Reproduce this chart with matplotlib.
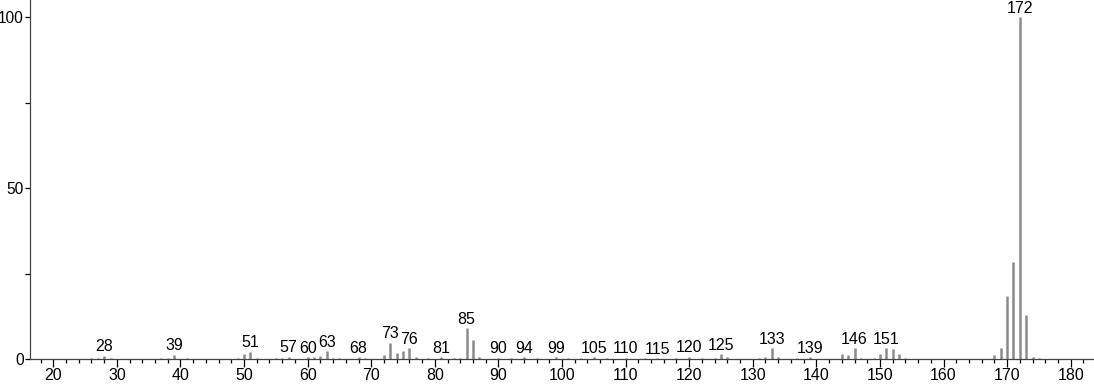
import matplotlib
matplotlib.use("Agg")
import matplotlib.pyplot as plt
from matplotlib.ticker import MultipleLocator

plt.rcParams['font.family'] = ['Liberation Sans', 'DejaVu Sans']

mz = [26, 27, 28, 29, 37, 38, 39, 41, 49, 50, 51, 52, 55, 56, 57, 60, 61, 62, 63, 64, 65,
      68, 69, 72, 73, 74, 75, 76, 77, 79, 81, 83, 84, 85, 86, 87, 90, 92, 94, 96, 99, 101,
      103, 105, 107, 110, 113, 115, 118, 120, 122, 124, 125, 126, 131, 132, 133, 134, 137, 139,
      144, 145, 146, 147, 149, 150, 151, 152, 153, 154, 168, 169, 170, 171, 172, 173, 174, 175]
intensity = [0.3, 0.5, 1.0, 0.3, 0.3, 0.5, 1.3, 0.3, 0.4, 1.5, 2.2, 0.5, 0.3, 0.3, 0.8, 0.7, 0.8, 1.0, 2.3, 0.5, 0.4,
             0.6, 0.3, 1.2, 4.8, 1.8, 2.3, 3.2, 0.6, 0.4, 0.7, 0.4, 0.5, 9.1, 5.6, 0.8, 0.5, 0.4, 0.6, 0.4, 0.6, 0.3,
             0.4, 0.6, 0.4, 0.5, 0.3, 0.4, 0.3, 0.8, 0.4, 0.5, 1.5, 0.6, 0.5, 0.6, 3.2, 0.8, 0.4, 0.6,
             1.5, 1.2, 3.2, 0.5, 0.4, 1.5, 3.2, 3.0, 1.5, 0.5, 1.2, 3.2, 18.5, 28.4, 100.0, 12.9, 0.7, 0.3]
labeled = [28, 39, 51, 57, 60, 63, 68, 73, 76, 81, 85, 90, 94, 99, 105, 110, 115, 120, 125,
           133, 139, 146, 151, 172]
xticks_major = [20, 30, 40, 50, 60, 70, 80, 90, 100, 110, 120, 130, 140, 150, 160, 170, 180]
yticks_major = [0, 50, 100]

fig = plt.figure(figsize=(10.94, 3.84), dpi=100)
ax = fig.add_axes([30 / 1094, 1 - 359.3 / 384, 1 - 30 / 1094, 359.3 / 384])

ax.vlines(mz, 0, intensity, colors='#8a8a8a', linewidth=1.8)

lookup = dict(zip(mz, intensity))
for m in labeled:
    ax.annotate(str(m), (m, lookup.get(m, 0)), xytext=(0, 1.0), textcoords='offset points',
                ha='center', va='bottom', fontsize=11.5, color='black')

ax.set_xlim(16.34, 183.66)
ax.set_ylim(0, 105.06)
ax.set_xticks(xticks_major)
ax.set_yticks(yticks_major)
ax.xaxis.set_minor_locator(MultipleLocator(2))
ax.yaxis.set_minor_locator(MultipleLocator(25))
ax.tick_params(axis='x', which='major', length=5.5, width=0.9, labelsize=11.5, direction='out', pad=1)
ax.tick_params(axis='y', which='major', length=3.8, width=0.9, labelsize=11.2, direction='out', pad=0.5)
ax.tick_params(axis='x', which='minor', length=2.8, width=0.9, direction='out')
ax.tick_params(axis='y', which='minor', length=3.8, width=0.9, direction='out')
for s in ['top', 'right']:
    ax.spines[s].set_visible(False)
for s in ['left', 'bottom']:
    ax.spines[s].set_color('#444444')
    ax.spines[s].set_linewidth(0.9)

fig.savefig('out.png', dpi=100)
